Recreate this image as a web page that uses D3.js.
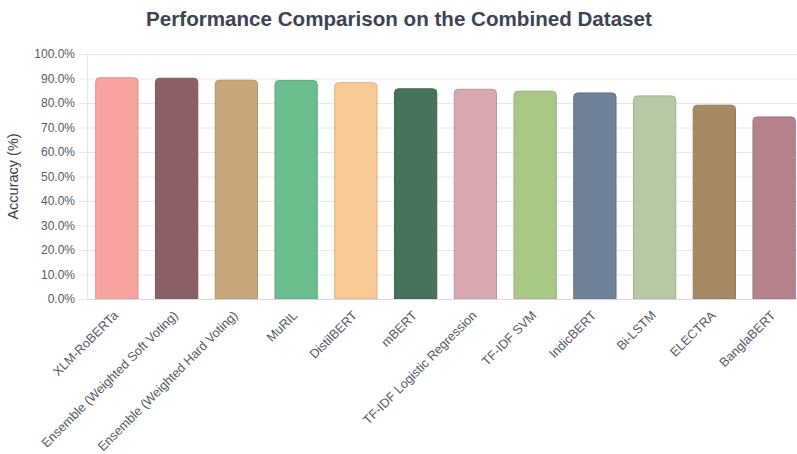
<!DOCTYPE html>
<html>
<head>
<meta charset="utf-8">
<script src="https://cdn.jsdelivr.net/npm/d3@7"></script>
<style>
    body { margin: 0; background: #fff; }
    svg { display: block; font-family: "Liberation Sans", Arial, sans-serif; }
</style>
</head>
<body>
<div class="chart"></div>
<script>
// Chart data
const models = [
    "XLM-RoBERTa", "Ensemble (Weighted Soft Voting)", "Ensemble (Weighted Hard Voting)",
    "MuRIL", "DistilBERT", "mBERT", "TF-IDF Logistic Regression", "TF-IDF SVM",
    "IndicBERT", "Bi-LSTM", "ELECTRA", "BanglaBERT"
];
const accuracy = [90.3, 90.1, 89.3, 89.2, 88.3, 85.8, 85.6, 84.8, 84.1, 82.9, 79.1, 74.3];
const barColors = [
    "#f7a3a0", "#8b6166", "#c8a87b", "#6bbf8e", "#f9c994", "#46735a",
    "#d9a7b0", "#a9c785", "#6f8299", "#b6c8a6", "#a68a64", "#b5818a"
];
const yTicks = [0, 10, 20, 30, 40, 50, 60, 70, 80, 90, 100];

const width = 797;
const height = 454;
const margin = { top: 54, left: 87, bottom: 155 };
const plotRight = 804;

const svg = d3.select(".chart")
    .append("svg")
    .attr("width", width)
    .attr("height", height);

// Title
svg.append("text")
    .attr("x", 399)
    .attr("y", 26)
    .attr("text-anchor", "middle")
    .attr("font-size", 20.6)
    .attr("font-weight", "bold")
    .attr("fill", "#3d4451")
    .text("Performance Comparison on the Combined Dataset");

// Scales
const x = d3.scaleBand()
    .domain(models)
    .range([margin.left, plotRight])
    .paddingInner(0.292)
    .paddingOuter(0.146);

const y = d3.scaleLinear()
    .domain([0, 100])
    .range([height - margin.bottom, margin.top]);

// Grid lines
svg.append("g")
    .selectAll("line")
    .data(yTicks)
    .enter()
    .append("line")
    .attr("x1", margin.left - 8)
    .attr("x2", width)
    .attr("y1", d => y(d) + 0.5)
    .attr("y2", d => y(d) + 0.5)
    .attr("stroke", "#e3e8f0")
    .attr("stroke-width", 1);

// Y axis line
svg.append("line")
    .attr("x1", margin.left + 0.5)
    .attr("x2", margin.left + 0.5)
    .attr("y1", y(100))
    .attr("y2", y(0))
    .attr("stroke", "#e3e8f0");

// Y tick labels
svg.append("g")
    .selectAll("text")
    .data(yTicks)
    .enter()
    .append("text")
    .attr("x", 75)
    .attr("y", d => y(d))
    .attr("dy", "0.35em")
    .attr("text-anchor", "end")
    .attr("font-size", 12)
    .attr("fill", "#555b66")
    .text(d => d.toFixed(1) + "%");

// Y axis title
svg.append("text")
    .attr("transform", `translate(18,${(y(0) + y(100)) / 2}) rotate(-90)`)
    .attr("text-anchor", "middle")
    .attr("font-size", 14.5)
    .attr("fill", "#3a3f4a")
    .text("Accuracy (%)");

// Bars
const data = models.map((m, i) => ({ model: m, value: accuracy[i], color: barColors[i] }));

function barPath(d) {
    const x0 = x(d.model), x1 = x0 + x.bandwidth();
    const top = y(d.value), bottom = y(0);
    const r = 4;
    return `M${x0},${bottom}V${top + r}Q${x0},${top} ${x0 + r},${top}` +
        `H${x1 - r}Q${x1},${top} ${x1},${top + r}V${bottom}Z`;
}

svg.append("g")
    .selectAll("path")
    .data(data)
    .enter()
    .append("path")
    .attr("d", barPath)
    .attr("fill", d => d.color)
    .attr("stroke", d => d3.color(d.color).darker(0.35))
    .attr("stroke-width", 1);

// X axis line
svg.append("line")
    .attr("x1", margin.left)
    .attr("x2", width)
    .attr("y1", y(0) + 0.5)
    .attr("y2", y(0) + 0.5)
    .attr("stroke", "#d5dbe4");

// X tick labels
svg.append("g")
    .selectAll("text")
    .data(models)
    .enter()
    .append("text")
    .attr("transform", d => `translate(${x(d) + x.bandwidth() / 2 - 1},${y(0) + 14}) rotate(-45)`)
    .attr("text-anchor", "end")
    .attr("dy", "0.35em")
    .attr("font-size", 12.7)
    .attr("fill", "#555b66")
    .text(d => d);
</script>
</body>
</html>
